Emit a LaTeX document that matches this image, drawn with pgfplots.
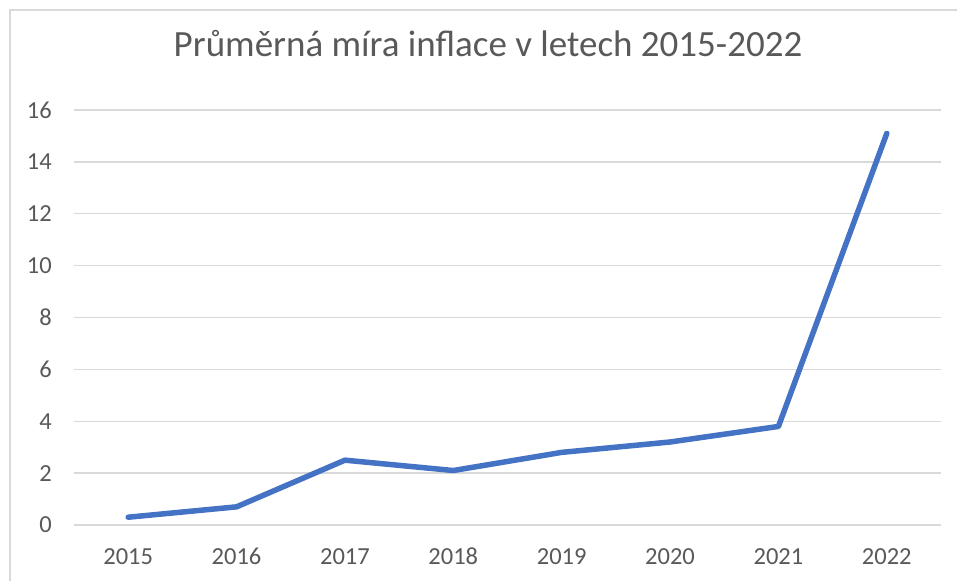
\documentclass[border=0pt]{standalone}
\usepackage{fontspec}
\setmainfont{Carlito}
\usepackage{pgfplots}
\pgfplotsset{compat=1.18}
\definecolor{linecol}{HTML}{4472C4}
\definecolor{gridcol}{HTML}{D9D9D9}
\definecolor{txtcol}{HTML}{595959}
\definecolor{framecol}{HTML}{D9D9D9}
\begin{document}
\begin{tikzpicture}[x=1pt,y=1pt]
\useasboundingbox (0,0) rectangle (957,581);
\draw[framecol, line width=1.5pt] (10,0) -- (10,571) -- (957,571);
\node[anchor=base, text=txtcol, font=\fontsize{37}{44}\selectfont, inner sep=0] at (488,524) {Průměrná míra inflace v letech 2015-2022};
\begin{axis}[
  at={(74pt,56pt)}, anchor=south west,
  scale only axis, width=867pt, height=415pt,
  xmin=-0.5, xmax=7.5, ymin=0, ymax=16,
  xtick={0,...,7},
  xticklabels={2015,2016,2017,2018,2019,2020,2021,2022},
  ytick={0,2,...,16},
  axis line style={draw=none},
  major tick length=0pt,
  ymajorgrids, grid style={gridcol, line width=1.5pt},
  /pgf/number format/assume math mode=true,
  ticklabel style={text=txtcol, font=\fontsize{24.5}{29}\selectfont, inner sep=0pt},
  yticklabel style={anchor=east, xshift=-22pt},
  xticklabel style={anchor=base, yshift=-39pt},
  clip=false,
]
\addplot[linecol, line width=5.5pt, line cap=round, line join=round] coordinates {
(0,0.3) (1,0.7) (2,2.5) (3,2.1) (4,2.8) (5,3.2) (6,3.8) (7,15.1)
};
\end{axis}
\end{tikzpicture}
\end{document}
